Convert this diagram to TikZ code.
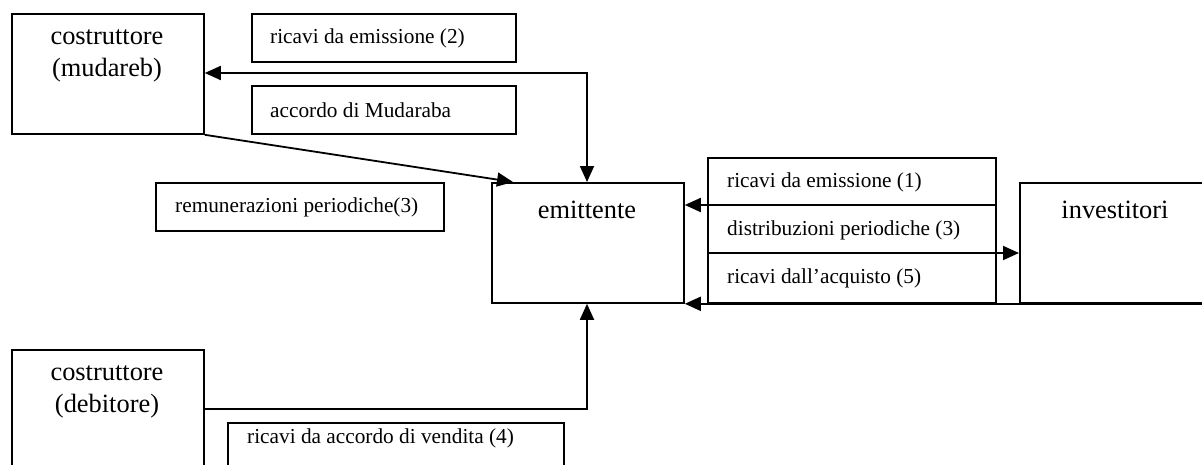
\documentclass[tikz,border=0pt]{standalone}
\usepackage{fontspec}
\setmainfont{Liberation Serif}
\usetikzlibrary{arrows.meta}
\tikzset{
  box/.style={draw, line width=1.8pt, rectangle, inner sep=0pt, anchor=north west},
  bigtxt/.style={font=\fontsize{26.4pt}{32pt}\selectfont, align=center, inner sep=0pt},
  smalltxt/.style={font=\fontsize{21.3pt}{25pt}\selectfont, inner sep=0pt, anchor=west},
  conn/.style={line width=1.8pt, -{Triangle[length=16pt,width=14pt]}},
  dconn/.style={line width=1.8pt, {Triangle[length=16pt,width=14pt]}-{Triangle[length=16pt,width=14pt]}},
  plain/.style={line width=1.8pt}
}
\begin{document}
\begin{tikzpicture}[x=1pt,y=-1pt]
\useasboundingbox (0,0) rectangle (1202,464);
\clip (0,0) rectangle (1202,464);
% boxes
\node[box, minimum width=192pt, minimum height=120pt] (mud) at (11,13) {};
\node[bigtxt] (mudt) at (107,56) {costruttore\\(mudareb)};
\node[box, minimum width=264pt, minimum height=48pt] (ric2) at (251,13) {};
\node[smalltxt] (ric2t) at (270,38) {ricavi da emissione (2)};
\node[box, minimum width=264pt, minimum height=48pt] (acc) at (251,85) {};
\node[smalltxt] (acct) at (270,110) {accordo di Mudaraba};
\node[box, minimum width=288pt, minimum height=48pt] (rem) at (155,182) {};
\node[smalltxt] (remt) at (175,207) {remunerazioni periodiche(3)};
\node[box, minimum width=192pt, minimum height=120pt] (emit) at (491,182) {};
\node[bigtxt] (emitt) at (587,210) {emittente};
\node[box, minimum width=288pt, minimum height=145pt] (grp) at (707,157) {};
\node[smalltxt] (g1) at (727,182) {ricavi da emissione (1)};
\node[smalltxt] (g2) at (727,230) {distribuzioni periodiche (3)};
\node[smalltxt] (g3) at (727,278) {ricavi dall’acquisto (5)};
\node[box, minimum width=192pt, minimum height=120pt] (inv) at (1019,182) {};
\node[bigtxt] (invt) at (1115,210) {investitori};
\node[box, minimum width=192pt, minimum height=140pt] (deb) at (11,349) {};
\node[bigtxt] (debt) at (107,392) {costruttore\\(debitore)};
\node[box, minimum width=336pt, minimum height=60pt] (ric4) at (227,422) {};
\node[smalltxt] (ric4t) at (247,438) {ricavi da accordo di vendita (4)};
% connector corner points
\coordinate (c1) at (587,73);
\coordinate (c2) at (587,409);
% connectors
\draw[dconn] (mud.east |- c1) -- (c1) -- (c1 |- emit.north);
\draw[conn] (mud.south east) -- (513,182);
\draw[conn] (grp.east |- 0,205) -- (emit.east |- 0,205);
\draw[conn] (grp.west |- 0,253) -- (inv.west |- 0,253);
\draw[conn] (inv.south east) -- (emit.south east);
\draw[conn] (deb.east |- c2) -- (c2) -- (c2 |- emit.south);
\end{tikzpicture}
\end{document}
